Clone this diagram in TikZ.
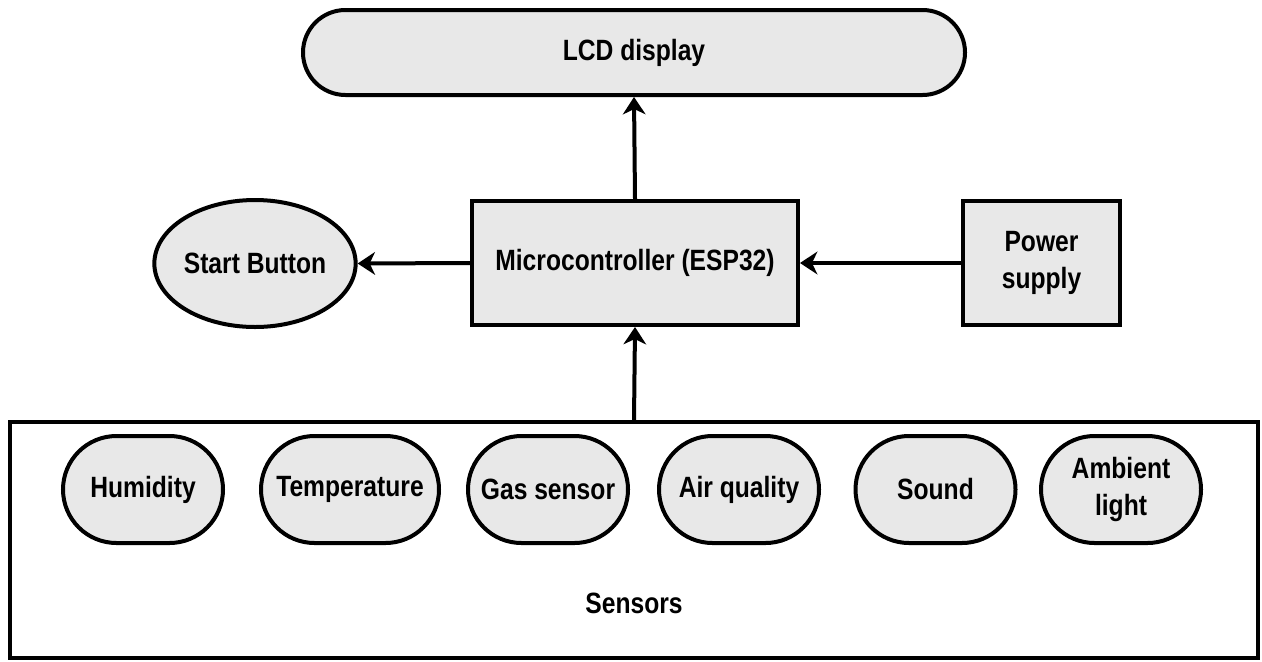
\documentclass[tikz,border=0pt]{standalone}
\usepackage{fontspec}
\setmainfont{Liberation Sans}[FakeStretch=0.84]
\usetikzlibrary{shapes.misc,shapes.geometric,arrows.meta}

\definecolor{boxgray}{RGB}{232,232,232}

\tikzset{
  blk/.style={draw, line width=3pt, fill=boxgray, align=center, inner sep=0pt,
    font=\fontsize{22}{28}\selectfont\bfseries},
  pill/.style={blk, rounded rectangle, minimum height=80.25pt, minimum width=120pt},
  link/.style={line width=3pt, -{Stealth[length=13pt,width=17pt,inset=4pt]}},
}

\begin{document}
\begin{tikzpicture}[x=0.75pt,y=0.75pt,yscale=-1,xscale=1]
\useasboundingbox (0,0) rectangle (1262,661);

%Rounded Rect
\node [blk, rounded rectangle, minimum width=496.5pt, minimum height=63.75pt] (lcd) at (634,52.5) {LCD display};
%Shape: Rectangle
\node [blk, minimum width=244.5pt, minimum height=93pt] (mcu) at (635,263) {Microcontroller (ESP32)};
%Shape: Rectangle
\node [blk, minimum width=117.75pt, minimum height=93pt] (power) at (1041.5,263) {Power\\supply};
%Shape: Ellipse
\node [blk, ellipse, minimum width=120pt, minimum height=95.25pt] (start) at (255,263.5) {Start Button};
%Shape: Rectangle
\node [blk, fill=white, minimum width=936pt, minimum height=177pt] (sensors) at (634,540) {};

% Text Node
\node [font=\fontsize{22}{28}\selectfont\bfseries, inner sep=0pt] (sensorslbl) at (634,603) {Sensors};

%Rounded Rects
\node [pill] (humid) at (143,489.5) {Humidity};
\node [pill, minimum width=133.5pt] (temp) at (350,489.5) {Temperature};
\node [pill] (gas) at (548,489.5) {Gas sensor};
\node [pill] (air) at (739,489.5) {Air quality};
\node [pill] (sound) at (935.5,489.5) {Sound};
\node [pill] (ambient) at (1121,489.5) {Ambient\\light};

%Straight Lines
\draw [link] (mcu.north) -- (lcd.south);
\draw [link] (mcu.west) -- (start.east);
\draw [link] (power.west) -- (mcu.east);
\draw [link] (sensors.north) -- (mcu.south);

\end{tikzpicture}
\end{document}
